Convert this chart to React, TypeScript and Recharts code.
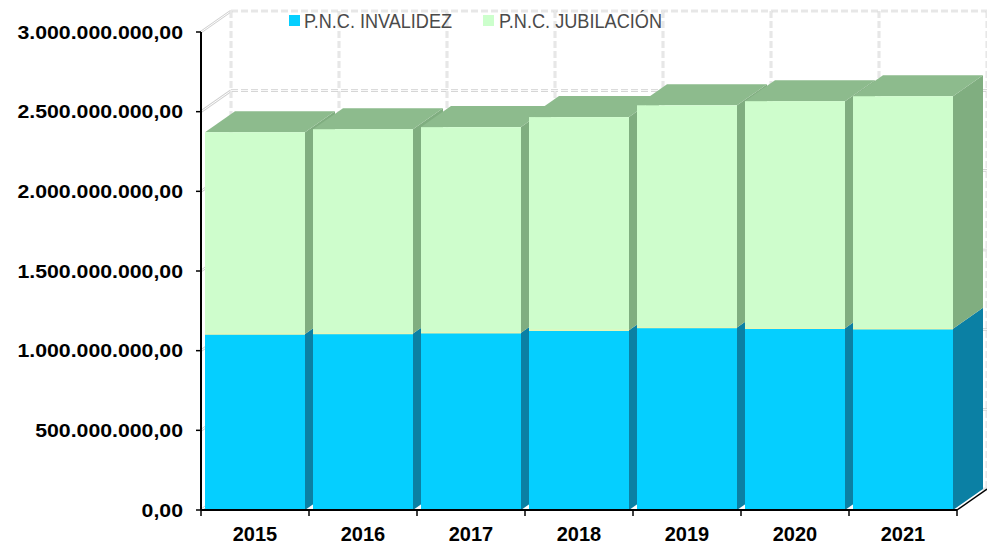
import React from 'react';
import { BarChart, Bar, XAxis, YAxis, CartesianGrid, Legend } from 'recharts';

const years = ['2015', '2016', '2017', '2018', '2019', '2020', '2021'];
const invalidez = [1104000000, 1108000000, 1112000000, 1128000000, 1146000000, 1140000000, 1138000000];
const jubilacion = [1267000000, 1282000000, 1291000000, 1338000000, 1394000000, 1426000000, 1459000000];
const yTicks = [0, 500000000, 1000000000, 1500000000, 2000000000, 2500000000, 3000000000];
const seriesNames = ['P.N.C. INVALIDEZ', 'P.N.C. JUBILACIÓN'];
const seriesColors = ['#05CFFF', '#CCFFCC'];

const data = years.map((y, i) => ({ year: y, inv: invalidez[i], jub: jubilacion[i] }));

const DX = 30;
const DY = 21;
const FONT = '"Liberation Sans", Arial, sans-serif';

const fmt = (v: number) => v.toFixed(0).replace(/\B(?=(\d{3})+(?!\d))/g, '.') + ',00';

const InvShape = (p: any) => {
  const { x, y, width: w, height: h } = p;
  if (h == null || w == null) return null;
  return (
    <g>
      <polygon
        points={`${x + w},${y} ${x + w + DX},${y - DY} ${x + w + DX},${y + h - DY} ${x + w},${y + h}`}
        fill="#0B80A4"
      />
      <rect x={x} y={y} width={w} height={h} fill="#05CFFF" />
    </g>
  );
};

const JubShape = (p: any) => {
  const { x, y, width: w, height: h } = p;
  if (h == null || w == null) return null;
  return (
    <g>
      <polygon
        points={`${x + w},${y} ${x + w + DX},${y - DY} ${x + w + DX},${y + h - DY} ${x + w},${y + h}`}
        fill="#80AE80"
      />
      <polygon
        points={`${x},${y} ${x + DX},${y - DY} ${x + w + DX},${y - DY} ${x + w},${y}`}
        fill="#8DBB8D"
      />
      <rect x={x} y={y} width={w} height={h} fill="#CEFDCC" />
      <line x1={x} y1={y + h} x2={x + w} y2={y + h} stroke="#E6F7B8" strokeWidth={1.5} />
    </g>
  );
};

const DoubleLine = ({ x1, y1, x2, y2, dashed }: any) => (
  <g>
    <line x1={x1} y1={y1} x2={x2} y2={y2} stroke="#CFCFCF" strokeWidth={2.6} strokeDasharray={dashed ? '7 3' : undefined} />
    <line x1={x1} y1={y1} x2={x2} y2={y2} stroke="#FFFFFF" strokeWidth={1} strokeDasharray={dashed ? '7 3' : undefined} />
  </g>
);

const HLine = (p: any) => {
  const { x1, x2, y1, index } = p;
  return (
    <g key={`h-${index}`}>
      <DoubleLine x1={x1} y1={y1} x2={x1 + DX} y2={y1 - DY} />
      <DoubleLine x1={x1 + DX} y1={y1 - DY} x2={x2 + DX} y2={y1 - DY} dashed />
    </g>
  );
};

const VLine = (p: any) => {
  const { x1, y1, y2, index } = p;
  return (
    <g key={`v-${index}`}>
      <DoubleLine x1={x1 + DX} y1={y1 - DY} x2={x1 + DX} y2={y2 - DY} dashed />
    </g>
  );
};

const XTick = (p: any) => {
  const { x, y, payload, index } = p;
  const off = payload && payload.offset != null ? payload.offset : 54;
  const last = index === years.length - 1;
  return (
    <g>
      <line x1={x - off} y1={y} x2={x - off} y2={y + 6} stroke="#000" strokeWidth={1.5} />
      {last && (
        <g>
          <line x1={x + off} y1={y} x2={x + off} y2={y + 6} stroke="#000" strokeWidth={1.5} />
          <line x1={x + off} y1={y} x2={x + off + DX} y2={y - DY} stroke="#000" strokeWidth={1.5} />
        </g>
      )}
      <text x={x} y={y + 31} textAnchor="middle" fontFamily={FONT} fontWeight="bold" fontSize={20} fill="#000">
        {payload.value}
      </text>
    </g>
  );
};

const YTick = (p: any) => {
  const { x, y, payload } = p;
  return (
    <g transform={`translate(${x},${y + 6.8}) scale(1.12,1)`}>
      <text x={0} y={0} textAnchor="end" fontFamily={FONT} fontWeight="bold" fontSize={19} fill="#000">
        {fmt(payload.value)}
      </text>
    </g>
  );
};

const LEGEND_FONT = '"Liberation Sans Narrow", "Liberation Sans", Arial, sans-serif';

const LegendContent = () => (
  <svg width={420} height={30} style={{ display: 'block' }}>
    <rect x={4} y={11} width={11} height={11} fill={seriesColors[0]} />
    <text x={19} y={23.5} fontFamily={LEGEND_FONT} fontSize={20} fill="#4a4a4a" textLength={148} lengthAdjust="spacingAndGlyphs">
      {seriesNames[0]}
    </text>
    <rect x={198} y={11} width={11} height={11} fill={seriesColors[1]} />
    <text x={214} y={23.5} fontFamily={LEGEND_FONT} fontSize={20} fill="#4a4a4a" textLength={163} lengthAdjust="spacingAndGlyphs">
      {seriesNames[1]}
    </text>
  </svg>
);

export default function App() {
  return (
    <div style={{ position: 'absolute', left: 0, top: 0, width: 987, height: 545, background: '#fff' }}>
      <BarChart
        width={987}
        height={545}
        data={data}
        margin={{ top: 32, right: 30, bottom: 0, left: 0 }}
        barCategoryGap={4}
      >
        <CartesianGrid
          horizontal={HLine as any}
          vertical={VLine as any}
          verticalCoordinatesGenerator={({ offset }: any) => {
            const pts: number[] = [];
            for (let i = 0; i <= years.length; i++) pts.push(offset.left + (i * offset.width) / years.length);
            return pts;
          }}
        />
        <XAxis
          dataKey="year"
          height={35}
          interval={0}
          tickSize={0}
          tickMargin={0}
          tickLine={false}
          axisLine={{ stroke: '#000', strokeWidth: 2 }}
          tick={<XTick />}
        />
        <YAxis
          width={201}
          domain={[0, 3000000000]}
          ticks={yTicks}
          interval={0}
          tickSize={5}
          tickMargin={13}
          tickLine={{ stroke: '#000', strokeWidth: 1.5 }}
          axisLine={{ stroke: '#000', strokeWidth: 2 }}
          tick={<YTick />}
        />
        <Legend
          layout="horizontal"
          verticalAlign="middle"
          align="center"
          wrapperStyle={{ top: 4, left: 285, width: 420, height: 30 }}
          content={<LegendContent />}
        />
        <Bar dataKey="inv" name={seriesNames[0]} stackId="a" fill={seriesColors[0]} shape={InvShape as any} isAnimationActive={false} />
        <Bar dataKey="jub" name={seriesNames[1]} stackId="a" fill={seriesColors[1]} shape={JubShape as any} isAnimationActive={false} />
      </BarChart>
    </div>
  );
}
